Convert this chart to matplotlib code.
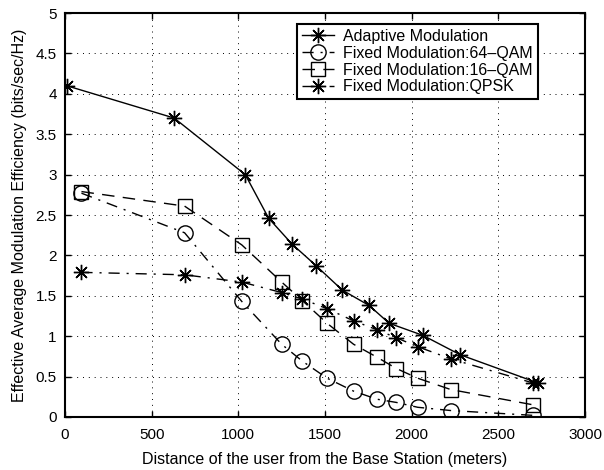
import numpy as np
import matplotlib
matplotlib.use('Agg')
import matplotlib.pyplot as plt

plt.rcParams['font.family'] = ['Liberation Sans', 'DejaVu Sans']

# distances (meters) and efficiencies (bits/sec/Hz)
adaptive_x = [10, 630, 1040, 1175, 1310, 1450, 1600, 1755, 1870, 2065, 2280, 2730]
adaptive_y = [4.10, 3.70, 3.00, 2.46, 2.14, 1.87, 1.57, 1.38, 1.16, 1.01, 0.77, 0.42]

fixed_x = [95, 690, 1020, 1250, 1370, 1512, 1665, 1800, 1912, 2035, 2225, 2702]
qam64_y = [2.77, 2.28, 1.43, 0.90, 0.69, 0.48, 0.32, 0.22, 0.18, 0.12, 0.08, 0.02]
qam16_y = [2.79, 2.61, 2.13, 1.67, 1.44, 1.16, 0.90, 0.74, 0.60, 0.48, 0.34, 0.15]
qpsk_y = [1.79, 1.76, 1.67, 1.54, 1.46, 1.34, 1.19, 1.08, 0.98, 0.87, 0.72, 0.42]

xticks = [0, 500, 1000, 1500, 2000, 2500, 3000]
yticks = [0, 0.5, 1, 1.5, 2, 2.5, 3, 3.5, 4, 4.5, 5]
yticklabels = ['0', '0.5', '1', '1.5', '2', '2.5', '3', '3.5', '4', '4.5', '5']

star = (8, 2, 0)

fig = plt.figure(figsize=(6.04, 4.70), dpi=100)
ax = fig.add_axes([0.1076, 0.1128, 0.8609, 0.8595])

ax.plot(adaptive_x, adaptive_y, '-', color='k', lw=1, marker=star, ms=11, mew=1,
        label='Adaptive Modulation')
ax.plot(fixed_x, qam64_y, '-.', color='k', lw=1, marker='o', ms=11, mew=1,
        mfc='none', label='Fixed Modulation:64\u2013QAM', dashes=[8, 5, 1.5, 5])
ax.plot(fixed_x, qam16_y, '--', color='k', lw=1, marker='s', ms=10, mew=1,
        mfc='none', label='Fixed Modulation:16\u2013QAM', dashes=[9, 6])
ax.plot(fixed_x, qpsk_y, '-.', color='k', lw=1, marker=star, ms=11, mew=1,
        label='Fixed Modulation:QPSK', dashes=[8, 5, 1.5, 5])
# centre dots of the asterisks
ax.plot(adaptive_x, adaptive_y, '.', color='k', ms=4)
ax.plot(fixed_x, qpsk_y, '.', color='k', ms=4)

ax.set_xlim(0, 3000)
ax.set_ylim(0, 5)
ax.set_xticks(xticks)
ax.set_yticks(yticks)
ax.set_yticklabels(yticklabels)
ax.tick_params(direction='in', length=4, labelsize=11, top=True, right=True, width=1, pad=6)
ax.tick_params(axis='x', pad=8)
ax.grid(True, color='k', linestyle=(0, (1, 5)), lw=0.7)
for s in ax.spines.values():
    s.set_linewidth(1.5)

ax.set_xlabel('Distance of the user from the Base Station (meters)', fontsize=11.5, labelpad=7)
ax.set_ylabel('Effective Average Modulation Efficiency (bits/sec/Hz)', fontsize=11.5, labelpad=6)

leg = ax.legend(loc='upper right', bbox_to_anchor=(0.9096, 0.973), borderaxespad=0,
                fancybox=False, framealpha=1, edgecolor='k', fontsize=11.5,
                handlelength=2.0, labelspacing=0.12, borderpad=0.3, handletextpad=0.6)
leg.get_frame().set_linewidth(1.5)

fig.savefig('out.png', dpi=100)
